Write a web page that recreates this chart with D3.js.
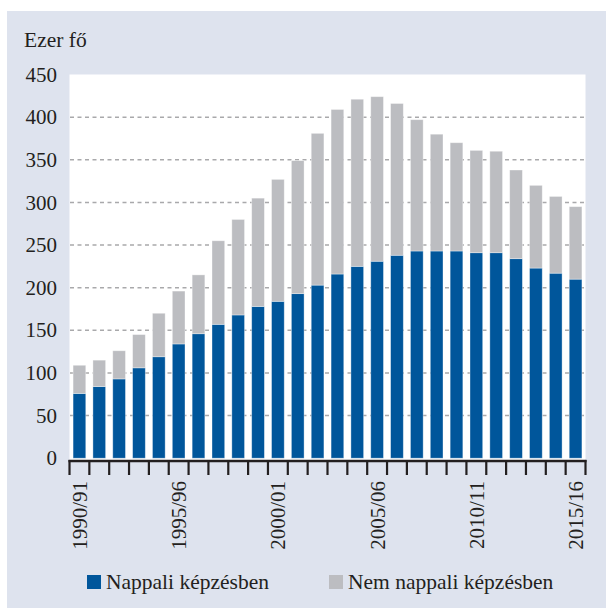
<!DOCTYPE html>
<html>
<head>
<meta charset="utf-8">
<script src="https://d3js.org/d3.v7.min.js"></script>
<style>
  body { margin: 0; background: #fff; }
  svg text { font-family: "Liberation Serif", "DejaVu Serif", serif; fill: #231f20; }
</style>
</head>
<body>
<svg id="vis"></svg>
<script>
  // tanév
  var years = ["1990/91","1991/92","1992/93","1993/94","1994/95","1995/96","1996/97","1997/98",
      "1998/99","1999/00","2000/01","2001/02","2002/03","2003/04","2004/05","2005/06","2006/07",
      "2007/08","2008/09","2009/10","2010/11","2011/12","2012/13","2013/14","2014/15","2015/16"];

  // ezer fő
  var nappali = [76, 84, 93, 106, 119, 134, 146, 157, 168, 178, 184, 193, 203, 216, 225, 231, 238,
      243, 243, 243, 241, 241, 234, 223, 217, 210];
  var nemNappali = [33, 31, 33, 39, 51, 62, 69, 98, 112, 127, 143, 156, 178, 193, 196, 193, 178,
      154, 137, 127, 120, 119, 104, 97, 90, 85];

  var yTicks = [0, 50, 100, 150, 200, 250, 300, 350, 400, 450];
  var gridTicks = [50, 100, 150, 200, 250, 300, 350, 400];
  var xLabels = ["1990/91", "1995/96", "2000/01", "2005/06", "2010/11", "2015/16"];

  var seriesNames = ["Nappali képzésben", "Nem nappali képzésben"];
  var colors = ["#00569b", "#bcbdc1"];

  var table = years.map(function(y, i) {
      return {year: y, nappali: nappali[i], nem: nemNappali[i]};
  });

  var svg = d3.select("#vis")
      .attr("width", 606)
      .attr("height", 608);

  // panel background
  svg.append("rect")
      .attr("x", 7).attr("y", 11)
      .attr("width", 599).attr("height", 597)
      .attr("fill", "#dee3ee");

  var xScale = d3.scaleBand()
      .domain(years)
      .range([69.5, 585.5])
      .paddingInner(0.36)
      .paddingOuter(0.18);

  var yScale = d3.scaleLinear()
      .domain([0, 450])
      .range([458.2, 74.5]);

  // white plot area
  svg.append("rect")
      .attr("x", 69.5).attr("y", yScale(450))
      .attr("width", 516).attr("height", 461 - yScale(450))
      .attr("fill", "#fff");

  svg.append("text")
      .attr("x", 24).attr("y", 47)
      .attr("font-size", 21.5)
      .text("Ezer fő");

  // grid
  svg.selectAll("line.grid")
      .data(gridTicks)
      .enter().append("line")
      .attr("class", "grid")
      .attr("x1", 70).attr("x2", 585)
      .attr("y1", function(d) { return yScale(d); })
      .attr("y2", function(d) { return yScale(d); })
      .attr("stroke", "#a9a9ab")
      .attr("stroke-width", 1.5)
      .attr("stroke-dasharray", "4,3.5");

  var stack = d3.stack().keys(["nappali", "nem"]);
  var layers = stack(table);

  svg.selectAll("g.layer")
      .data(layers)
      .enter().append("g")
      .attr("class", "layer")
      .attr("fill", function(d, i) { return colors[i]; })
      .selectAll("rect")
      .data(function(d) { return d; })
      .enter().append("rect")
      .attr("x", function(d) { return xScale(d.data.year); })
      .attr("width", xScale.bandwidth())
      .attr("y", function(d) { return yScale(d[1]); })
      .attr("height", function(d) { return yScale(d[0]) - yScale(d[1]); })
      .attr("stroke", "#ffffff")
      .attr("stroke-opacity", 0.45)
      .attr("stroke-width", 0.8);

  // y labels
  svg.selectAll("text.ylab")
      .data(yTicks)
      .enter().append("text")
      .attr("class", "ylab")
      .attr("x", 57)
      .attr("y", function(d) { return yScale(d); })
      .attr("dy", "0.34em")
      .attr("text-anchor", "end")
      .attr("font-size", 21)
      .text(function(d) { return d; });

  // x axis with ticks on band edges
  var step = xScale.step();
  var edges = d3.range(years.length + 1).map(function(i) { return 69.5 + i * step; });

  svg.append("line")
      .attr("x1", 68.5).attr("x2", 586.5)
      .attr("y1", 461).attr("y2", 461)
      .attr("stroke", "#231f20")
      .attr("stroke-width", 2.5);

  svg.selectAll("line.xtick")
      .data(edges)
      .enter().append("line")
      .attr("class", "xtick")
      .attr("x1", function(d) { return d; })
      .attr("x2", function(d) { return d; })
      .attr("y1", 460).attr("y2", 475)
      .attr("stroke", "#231f20")
      .attr("stroke-width", 2.2);

  svg.selectAll("text.xlab")
      .data(xLabels)
      .enter().append("text")
      .attr("class", "xlab")
      .attr("transform", function(d) {
          var cx = xScale(d) + xScale.bandwidth() / 2;
          return "translate(" + (cx + 7.5) + ",481) rotate(-90)";
      })
      .attr("text-anchor", "end")
      .attr("font-size", 21)
      .text(function(d) { return d; });

  // legend
  var legendX = [87, 329];
  var legend = svg.selectAll("g.legend")
      .data(seriesNames)
      .enter().append("g")
      .attr("class", "legend")
      .attr("transform", function(d, i) { return "translate(" + legendX[i] + ",575)"; });

  legend.append("rect")
      .attr("width", 14).attr("height", 14)
      .attr("fill", function(d, i) { return colors[i]; });

  legend.append("text")
      .attr("x", 19).attr("y", 14)
      .attr("font-size", 21.5)
      .text(function(d) { return d; });
</script>
</body>
</html>
